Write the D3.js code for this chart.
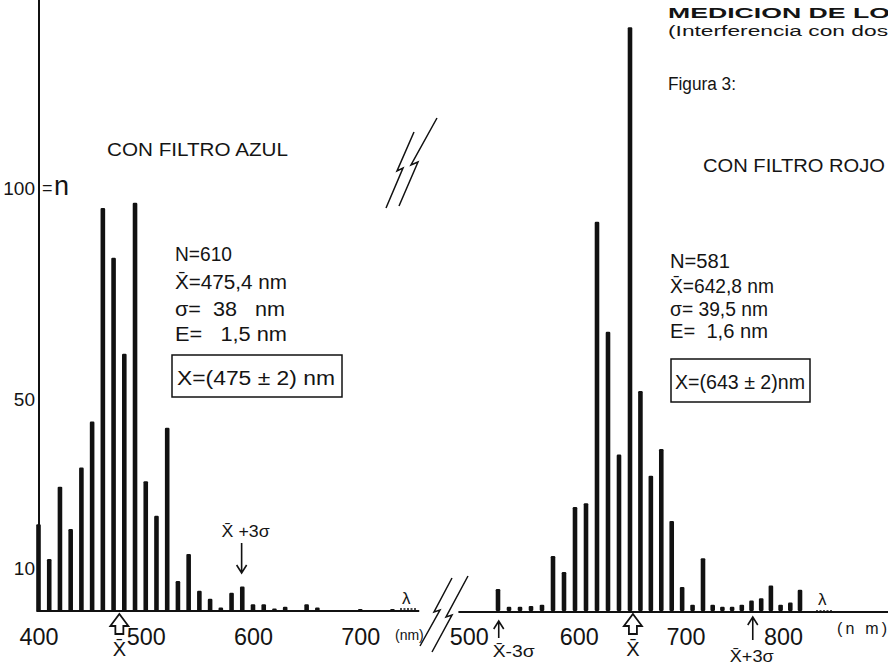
<!DOCTYPE html>
<html>
<head>
<meta charset="utf-8">
<script src="https://cdn.jsdelivr.net/npm/d3@7"></script>
<style>
  body { margin: 0; background: #fff; }
  svg text { font-family: "Liberation Sans", Arial, sans-serif; fill: #141414; white-space: pre; }
</style>
</head>
<body>
<svg id="chart" width="888" height="666"></svg>
<script>
// Histograms: blue filter (left) and red filter (right), counts per 10 nm class
const leftWavelengths = [400, 410, 420, 430, 440, 450, 460, 470, 480, 490, 500, 510, 520, 530, 540, 550, 560,
                         570, 580, 590, 600, 610, 620, 630, 640, 650, 660, 670, 680, 690, 700, 710, 720, 730];
const leftCounts = [20.5, 12.3, 29.4, 19.4, 33.9, 44.8, 95.3, 83.5, 60.8, 96.5, 30.7, 22.5, 43.3, 7.1, 13.5, 4.8, 2.9,
                    0.8, 4.3, 5.8, 1.6, 1.6, 0.6, 1, 0, 1.6, 0.8, 0, 0, 0, 0.5, 0, 0, 0.5];

const rightWavelengths = [520, 530, 540, 550, 560, 570, 580, 590, 600, 610, 620, 630, 640, 650, 660,
                          670, 680, 690, 700, 710, 720, 730, 740, 750, 760, 770, 780, 790, 800, 810];
const rightCounts = [5.2, 1, 1, 1.2, 1.5, 13, 9.2, 24.6, 25.5, 92, 66, 37, 138, 52, 32,
                     38.3, 21.3, 5.7, 1.5, 12.5, 1.5, 1, 1, 1.5, 2.5, 3, 6, 1.5, 2, 5];

const leftTicks = [400, 500, 600, 700];
const rightTicks = [500, 600, 700, 800];
const yTicks = [10, 50, 100];

// statistics printed on the figure
const leftStats = { mean: 475.4, sigma: 38 };
const rightStats = { mean: 642.8, sigma: 39.5 };

const svg = d3.select("#chart");

// the hand-drawn right axis is not quite even, so its scale is piecewise
const xLeft = d3.scaleLinear().domain([400, 600]).range([38.5, 253]);
const xRight = d3.scaleLinear().domain([520, 640, 710, 810]).range([498, 630, 703, 800]);
const y = d3.scaleLinear().domain([0, 100]).range([611, 188]);

// baselines
svg.append("line")
  .attr("x1", xLeft(398)).attr("x2", xLeft(755))
  .attr("y1", y(0)).attr("y2", y(0))
  .attr("stroke", "#111").attr("stroke-width", 2);
svg.append("line")
  .attr("x1", xRight(484)).attr("x2", 888)
  .attr("y1", y(0) + 1).attr("y2", y(0) + 1)
  .attr("stroke", "#111").attr("stroke-width", 2);

// vertical axis
svg.append("line")
  .attr("x1", 39).attr("x2", 39)
  .attr("y1", y(0)).attr("y2", y(145))
  .attr("stroke", "#111").attr("stroke-width", 2);

const yAxis = svg.append("g")
  .attr("transform", "translate(39,0)")
  .call(d3.axisLeft(y).tickValues(yTicks).tickSize(0).tickPadding(4));
yAxis.select(".domain").remove();
yAxis.selectAll("text").attr("font-size", 19).attr("font-family", "Liberation Sans").attr("fill", "#141414");

svg.append("text").attr("x", 42).attr("y", 194).attr("font-size", 18).text("=");
svg.append("text").attr("x", 54).attr("y", 195).attr("font-size", 27).attr("font-family", "DejaVu Sans").text("n");

// bars
function drawBars(xs, ws, counts) {
  svg.append("g").selectAll("rect")
    .data(ws.map((w, i) => ({ w, c: counts[i] })).filter(d => d.c > 0))
    .join("rect")
    .attr("x", d => xs(d.w) - 2.3)
    .attr("width", 4.6)
    .attr("y", d => y(d.c))
    .attr("height", d => y(0) - y(d.c))
    .attr("rx", 1.2)
    .attr("fill", "#111");
}
drawBars(xLeft, leftWavelengths, leftCounts);
drawBars(xRight, rightWavelengths, rightCounts);

// x axes
const axL = svg.append("g")
  .attr("transform", `translate(0,${y(0)})`)
  .call(d3.axisBottom(xLeft).tickValues(leftTicks).tickSize(0).tickPadding(17));
const axR = svg.append("g")
  .attr("transform", `translate(0,${y(0)})`)
  .call(d3.axisBottom(xRight).tickValues(rightTicks).tickSize(0).tickPadding(17));
[axL, axR].forEach(a => {
  a.select(".domain").remove();
  a.selectAll("text").attr("font-size", 24).attr("font-family", "Liberation Sans").attr("fill", "#141414")
    .attr("textLength", 39).attr("lengthAdjust", "spacingAndGlyphs");
});
axR.selectAll("text").attr("dx", "-0.3em");

// headings
svg.append("text").attr("x", 668).attr("y", 18).attr("font-size", 15).attr("font-weight", "bold")
  .attr("font-family", "DejaVu Sans").attr("textLength", 222).attr("lengthAdjust", "spacingAndGlyphs")
  .text("MEDICION DE LO");
svg.append("text").attr("x", 668).attr("y", 36).attr("font-size", 14).attr("font-family", "DejaVu Sans")
  .attr("textLength", 220).attr("lengthAdjust", "spacingAndGlyphs").text("(Interferencia con dos");
svg.append("text").attr("x", 668).attr("y", 90).attr("font-size", 18).attr("font-family", "DejaVu Sans")
  .attr("textLength", 68).attr("lengthAdjust", "spacingAndGlyphs").text("Figura 3:");

svg.append("text").attr("x", 107).attr("y", 156).attr("font-size", 18)
  .attr("textLength", 181).attr("lengthAdjust", "spacingAndGlyphs").text("CON FILTRO AZUL");
svg.append("text").attr("x", 703).attr("y", 172).attr("font-size", 18)
  .attr("textLength", 182).attr("lengthAdjust", "spacingAndGlyphs").text("CON FILTRO ROJO");

// statistics blocks
function statBlock(x0, lines, baselines, widths) {
  lines.forEach((t, i) => {
    svg.append("text").attr("x", x0).attr("y", baselines[i]).attr("font-size", 20)
      .attr("textLength", widths[i]).attr("lengthAdjust", "spacingAndGlyphs").text(t);
  });
}
statBlock(175, ["N=610", "X\u0304=475,4 nm", "σ=  38   nm", "E=   1,5 nm"], [261, 289, 316, 341], [57, 112, 110, 112]);
statBlock(670, ["N=581", "X\u0304=642,8 nm", "σ= 39,5 nm", "E=  1,6 nm"], [268, 293, 316, 338], [60, 104, 98, 98]);

svg.append("rect").attr("x", 172).attr("y", 355).attr("width", 170).attr("height", 42)
  .attr("fill", "none").attr("stroke", "#111").attr("stroke-width", 1.5);
svg.append("text").attr("x", 177).attr("y", 385).attr("font-size", 20)
  .attr("textLength", 158).attr("lengthAdjust", "spacingAndGlyphs").text("X=(475 ± 2) nm");
svg.append("rect").attr("x", 671).attr("y", 359).attr("width", 139).attr("height", 43)
  .attr("fill", "none").attr("stroke", "#111").attr("stroke-width", 1.5);
svg.append("text").attr("x", 675).attr("y", 389).attr("font-size", 20)
  .attr("textLength", 130).attr("lengthAdjust", "spacingAndGlyphs").text("X=(643 ± 2)nm");

// mean markers under the axis
function meanMark(xs, m) {
  const cx = xs(m);
  svg.append("path")
    .attr("d", `M${cx - 9},${626} L${cx},${614} L${cx + 9},${626} L${cx + 4},${626} L${cx + 4},${634} L${cx - 4},${634} L${cx - 4},${626} Z`)
    .attr("fill", "none").attr("stroke", "#111").attr("stroke-width", 1.8);
  svg.append("text").attr("x", cx).attr("y", 656).attr("font-size", 20)
    .attr("text-anchor", "middle").text("X\u0304");
}
meanMark(xLeft, leftStats.mean);
meanMark(xRight, rightStats.mean);

// ±3σ arrows
function arrow(x, y1, y2) {
  const dir = y2 > y1 ? -1 : 1;
  svg.append("path")
    .attr("d", `M${x},${y1} L${x},${y2} M${x - 5},${y2 + dir * 8} L${x},${y2} L${x + 5},${y2 + dir * 8}`)
    .attr("fill", "none").attr("stroke", "#111").attr("stroke-width", 1.6);
}
const lPlus = xLeft(leftStats.mean + 3 * leftStats.sigma);
arrow(lPlus, 543, 573);
svg.append("text").attr("x", lPlus - 20).attr("y", 537).attr("font-size", 17)
  .attr("textLength", 48).attr("lengthAdjust", "spacingAndGlyphs").text("X\u0304 +3σ");

const rMinus = xRight(rightStats.mean - 3 * rightStats.sigma);
arrow(rMinus - 4, 638, 621);
svg.append("text").attr("x", rMinus - 10).attr("y", 657).attr("font-size", 17)
  .attr("textLength", 42).attr("lengthAdjust", "spacingAndGlyphs").text("X\u0304-3σ");

const rPlus = xRight(rightStats.mean + 3 * rightStats.sigma);
arrow(rPlus, 640, 617);
svg.append("text").attr("x", rPlus - 23).attr("y", 662).attr("font-size", 17)
  .attr("textLength", 44).attr("lengthAdjust", "spacingAndGlyphs").text("X\u0304+3σ");

// lambda marks and units
svg.append("text").attr("x", 402).attr("y", 604).attr("font-size", 17).text("λ");
svg.append("line").attr("x1", 400).attr("x2", 416).attr("y1", 609).attr("y2", 609)
  .attr("stroke", "#111").attr("stroke-width", 1.5).attr("stroke-dasharray", "2,1.5");
svg.append("text").attr("x", 818).attr("y", 605).attr("font-size", 17).text("λ");
svg.append("line").attr("x1", 816).attr("x2", 833).attr("y1", 611).attr("y2", 611)
  .attr("stroke", "#111").attr("stroke-width", 1.5).attr("stroke-dasharray", "2,1.5");
svg.append("text").attr("x", 395).attr("y", 640).attr("font-size", 14).text("(nm)");
svg.append("text").attr("x", 837).attr("y", 634).attr("font-size", 16).attr("textLength", 50).text("(n m)");

// break marks
const breaks = [
  "M386,208 L403,168 L397,171 L414,132",
  "M399,206 L418,162 L411,165 L437,118",
  "M420,646 L440,610 L434,612 L452,578",
  "M432,652 L452,615 L446,617 L468,576"
];
svg.append("g").selectAll("path").data(breaks).join("path")
  .attr("d", d => d).attr("fill", "none").attr("stroke", "#111").attr("stroke-width", 1.5);
</script>
</body>
</html>
